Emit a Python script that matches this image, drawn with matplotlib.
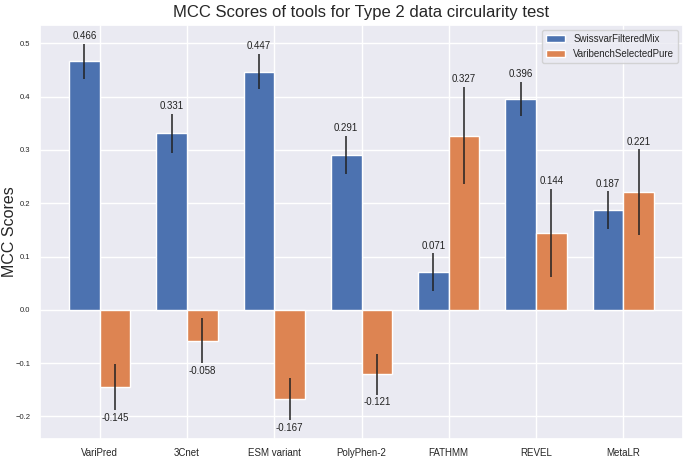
import matplotlib
matplotlib.use("Agg")
import matplotlib.pyplot as plt
import seaborn as sns
import numpy as np

tools = ["VariPred", "3Cnet", "ESM variant", "PolyPhen-2", "FATHMM", "REVEL", "MetaLR"]
swissvar = [0.466, 0.331, 0.447, 0.291, 0.071, 0.396, 0.187]
swissvar_err = [0.033, 0.036, 0.033, 0.036, 0.035, 0.032, 0.035]
varibench = [-0.145, -0.058, -0.167, -0.121, 0.327, 0.144, 0.221]
varibench_err = [0.043, 0.042, 0.040, 0.038, 0.091, 0.083, 0.080]

sns.set_theme(style="darkgrid")
plt.rcParams['font.family'] = ['Liberation Sans', 'DejaVu Sans']

fig = plt.figure(figsize=(6.85, 4.59), dpi=100)
ax = fig.add_axes([40/685, 20/459, 643/685, 414/459])

x = np.arange(len(tools))
w = 0.35
blue = "#4C72B0"
orange = "#DD8452"

ax.bar(x - w/2, swissvar, w, yerr=swissvar_err, color=blue, label="SwissvarFilteredMix",
       error_kw=dict(ecolor="#222222", elinewidth=1.1, capsize=0))
ax.bar(x + w/2, varibench, w, yerr=varibench_err, color=orange, label="VaribenchSelectedPure",
       error_kw=dict(ecolor="#222222", elinewidth=1.1, capsize=0))

for xs, vals, errs in [(x - w/2, swissvar, swissvar_err), (x + w/2, varibench, varibench_err)]:
    for xi, v, e in zip(xs, vals, errs):
        if v >= 0:
            ax.annotate(f"{v:.3f}", (xi, v + e), xytext=(0, 2), textcoords="offset points",
                        ha="center", va="bottom", fontsize=7, color="#222222")
        else:
            ax.annotate(f"{v:.3f}", (xi, v - e), xytext=(0, -2), textcoords="offset points",
                        ha="center", va="top", fontsize=7, color="#222222")

ax.set_xticks(x)
ax.set_xticklabels(tools, fontsize=7)
ax.tick_params(axis="y", labelsize=5.5, pad=1)
ax.tick_params(axis="x", pad=0.5)
ax.set_ylabel("MCC Scores", fontsize=11.5)
ax.yaxis.set_label_coords(-23/643, 0.5)
ax.set_title("MCC Scores of tools for Type 2 data circularity test", fontsize=12, pad=6)
ax.legend(loc="upper right", fontsize=7)

fig.savefig("out.png", dpi=100)
